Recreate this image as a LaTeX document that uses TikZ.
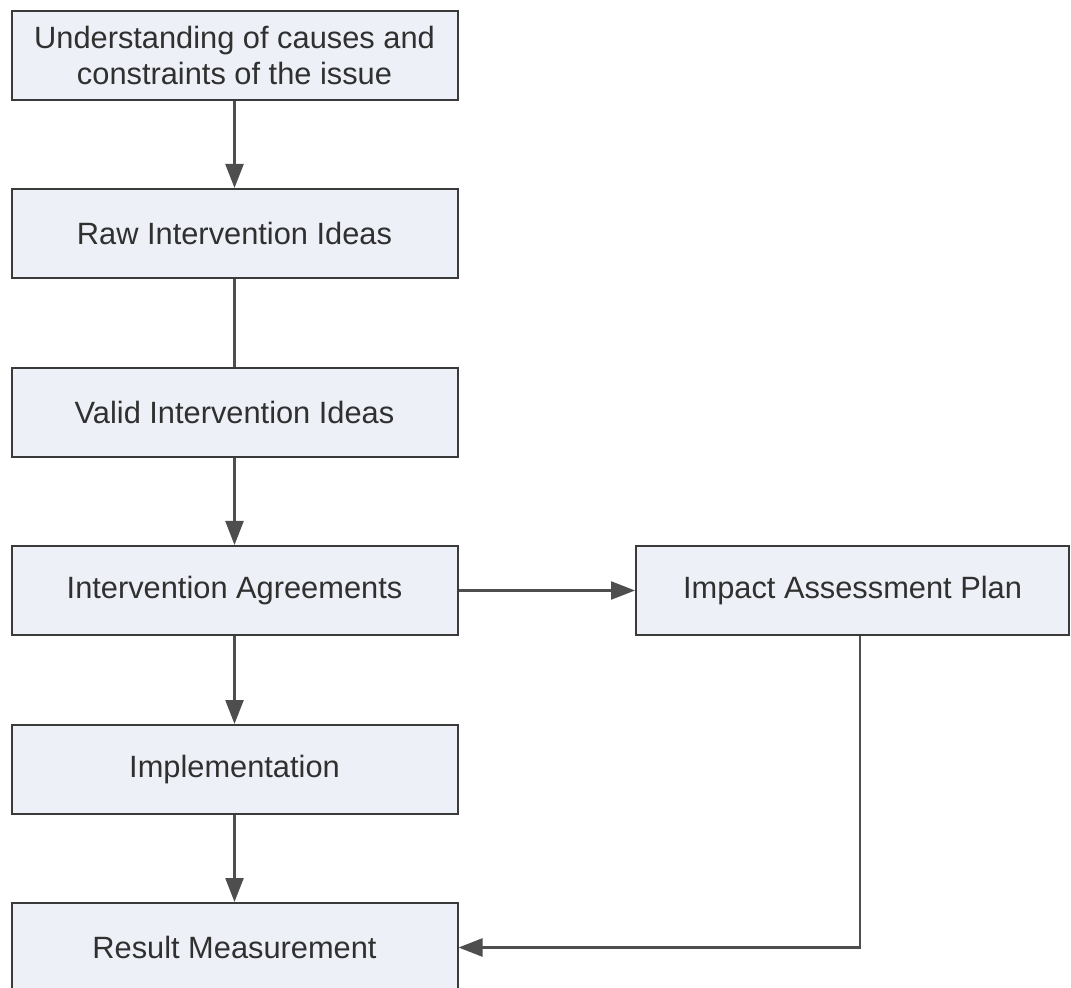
\documentclass[tikz,border=0pt]{standalone}
\usepackage{fontspec}
\setmainfont{Liberation Sans}
\usetikzlibrary{arrows.meta}
\definecolor{boxfill}{HTML}{EDF0F6}
\definecolor{boxdraw}{HTML}{3A3A3A}
\definecolor{linecol}{HTML}{4E4E4E}
\definecolor{textcol}{HTML}{303030}
\tikzset{
  flowbox/.style={draw=boxdraw, fill=boxfill, line width=1pt, minimum width=223pt, minimum height=44.5pt, inner sep=0pt, align=center, text=textcol, font=\fontsize{15.4}{18}\selectfont},
  conn/.style={draw=linecol, line width=1.2pt},
  arr/.style={conn, -{Triangle[length=12pt,width=9pt]}}
}
\begin{document}
\begin{tikzpicture}[x=0.5pt,y=-0.5pt]
\useasboundingbox (0,0) rectangle (1071,988);
\fill[white] (0,0) rectangle (1071,988);
\node[flowbox] (a) at (234.5,55.5) {Understanding of causes and\\constraints of the issue};
\node[flowbox] (b) at (234.5,233.5) {Raw Intervention Ideas};
\node[flowbox] (c) at (234.5,412.5) {Valid Intervention Ideas};
\node[flowbox] (d) at (234.5,590.5) {Intervention Agreements};
\node[flowbox] (e) at (234.5,769.5) {Implementation};
\node[flowbox] (f) at (234.5,947.5) {Result Measurement};
\node[flowbox, minimum width=216.5pt] (g) at (852.5,590.5) {Impact Assessment Plan};
\coordinate (k) at (860,947.5);
\draw[arr] (a) -- (b);
\draw[conn] (b) -- (c);
\draw[arr] (c) -- (d);
\draw[arr] (d) -- (e);
\draw[arr] (e) -- (f);
\draw[arr] (d) -- (g);
\draw[arr] (g.south -| k) -- (k) -- (f.east |- k);
\end{tikzpicture}
\end{document}
